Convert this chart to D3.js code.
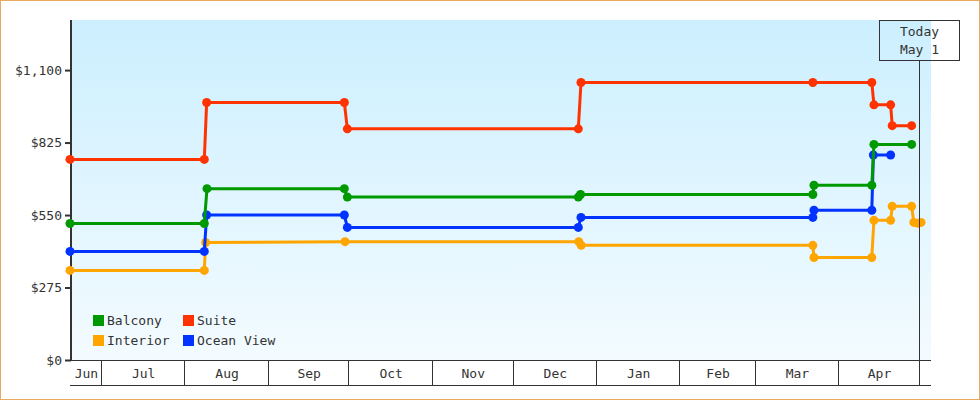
<!DOCTYPE html>
<html>
<head>
<meta charset="utf-8">
<script src="https://cdn.jsdelivr.net/npm/d3@7"></script>
<style>
  html, body { margin: 0; padding: 0; background: #fff; }
  svg { display: block; }
  text { font-family: "DejaVu Sans Mono", monospace; font-size: 13px; fill: #333; }
</style>
</head>
<body>
<svg id="chart" width="980" height="400"></svg>
<script>
// ---------- data ----------
const seriesNames = ["Balcony", "Interior", "Suite", "Ocean View"];
const seriesColors = ["#009900", "#ffa500", "#ff3300", "#0033ff"];

const balconyData = [
  ["2024-06-19 12", 518], ["2024-08-08 10", 518], ["2024-08-09 10", 650],
  ["2024-09-29 11", 650], ["2024-09-30 14", 618], ["2024-12-25 10", 618],
  ["2024-12-26 06", 628], ["2025-03-22 14", 628], ["2025-03-23 00", 663],
  ["2025-04-13 12", 663], ["2025-04-14 07", 818], ["2025-04-28 07", 818]
];
const interiorData = [
  ["2024-06-19 12", 340], ["2024-08-08 10", 340], ["2024-08-08 22", 446],
  ["2024-09-29 17", 449], ["2024-12-25 14", 449], ["2024-12-26 12", 435],
  ["2025-03-22 14", 435], ["2025-03-23 00", 389], ["2025-04-13 12", 389],
  ["2025-04-14 07", 530], ["2025-04-20 12", 530], ["2025-04-21 02", 583],
  ["2025-04-28 07", 583], ["2025-04-29 03", 522], ["2025-04-30 16", 519],
  ["2025-05-01 19", 522]
];
const suiteData = [
  ["2024-06-19 12", 761], ["2024-08-08 10", 761], ["2024-08-09 07", 977],
  ["2024-09-29 11", 977], ["2024-09-30 14", 877], ["2024-12-25 10", 877],
  ["2024-12-26 10", 1053], ["2025-03-22 14", 1053], ["2025-04-13 12", 1053],
  ["2025-04-14 07", 968], ["2025-04-20 12", 968], ["2025-04-21 02", 889],
  ["2025-04-28 07", 889]
];
const oceanViewData = [
  ["2024-06-19 12", 412], ["2024-08-08 10", 412], ["2024-08-09 07", 550],
  ["2024-09-29 11", 550], ["2024-09-30 14", 503], ["2024-12-25 10", 503],
  ["2024-12-26 10", 541], ["2025-03-22 14", 541], ["2025-03-23 00", 568],
  ["2025-04-13 12", 568], ["2025-04-14 02", 778], ["2025-04-20 12", 778]
];

const yTicks = [0, 275, 550, 825, 1100];
const yMax = 1290;
const xDomain = ["2024-06-19 12", "2025-05-05 12"];
const todayDate = "2025-05-01 00";
const todayLabel = ["Today", "May 1"];

// ---------- setup ----------
const parse = d3.timeParse("%Y-%m-%d %H");
const svg = d3.select("#chart");
const W = 980, H = 400;
const plot = { left: 71, right: 931, top: 20, bottom: 360 };

const x = d3.scaleTime().domain(xDomain.map(parse)).range([plot.left - 1, plot.right]);
const y = d3.scaleLinear().domain([0, yMax]).range([plot.bottom, plot.top]);

// outer border
svg.append("rect").attr("x", 0.5).attr("y", 0.5).attr("width", W - 1).attr("height", H - 1)
  .attr("fill", "#fff").attr("stroke", "#e9a961").attr("stroke-width", 1);

// background gradient
const defs = svg.append("defs");
const grad = defs.append("linearGradient").attr("id", "bg").attr("x1", 0).attr("y1", 0).attr("x2", 0).attr("y2", 1);
grad.append("stop").attr("offset", "0%").attr("stop-color", "#ccefff");
grad.append("stop").attr("offset", "100%").attr("stop-color", "#f3fbff");
svg.append("rect").attr("x", plot.left).attr("y", plot.top)
  .attr("width", plot.right - plot.left).attr("height", plot.bottom - plot.top)
  .attr("fill", "url(#bg)");

// ---------- bottom month axis ----------
const axisG = svg.append("g").attr("shape-rendering", "crispEdges");
axisG.append("line").attr("x1", 70).attr("x2", plot.right).attr("y1", 360.5).attr("y2", 360.5).attr("stroke", "#333");
axisG.append("line").attr("x1", 70).attr("x2", plot.right).attr("y1", 385.5).attr("y2", 385.5).attr("stroke", "#333");
const [d0, d1] = x.domain();
const monthStarts = d3.timeMonth.range(d3.timeMonth.ceil(d0), d1);
monthStarts.forEach(m => {
  const px = Math.round(x(m)) + 0.5;
  axisG.append("line").attr("x1", px).attr("x2", px).attr("y1", 360).attr("y2", 386).attr("stroke", "#333");
});
const cellEdges = [d0, ...monthStarts, d1];
const monthFmt = d3.timeFormat("%b");
for (let i = 0; i < cellEdges.length - 1; i++) {
  const a = x(cellEdges[i]), b = x(cellEdges[i + 1]);
  if (b - a < 25) continue;
  svg.append("text").attr("x", (a + b) / 2 + 1).attr("y", 378)
    .attr("text-anchor", "middle").text(monthFmt(cellEdges[i]));
}

// ---------- y axis ----------
const yAxis = d3.axisLeft(y).tickValues(yTicks).tickSize(6).tickPadding(3)
  .tickFormat(d3.format("$,"));
const yg = svg.append("g").attr("transform", `translate(${plot.left},0)`).call(yAxis);
yg.select(".domain").remove();
yg.selectAll(".tick line").attr("stroke", "#333").attr("stroke-width", 2);
yg.selectAll(".tick text").attr("font-family", "DejaVu Sans Mono").attr("font-size", 13).attr("fill", "#333");
svg.append("line").attr("x1", 71).attr("x2", 71).attr("y1", plot.top).attr("y2", plot.bottom + 1)
  .attr("stroke", "#333").attr("stroke-width", 2);

// ---------- series ----------
const allSeries = {
  "Balcony": balconyData, "Interior": interiorData,
  "Suite": suiteData, "Ocean View": oceanViewData
};
const drawOrder = ["Interior", "Ocean View", "Balcony", "Suite"];
const line = d3.line().x(d => x(parse(d[0]))).y(d => y(d[1]));
drawOrder.forEach(name => {
  const color = seriesColors[seriesNames.indexOf(name)];
  const data = allSeries[name];
  const g = svg.append("g");
  g.append("path").datum(data).attr("d", line).attr("fill", "none")
    .attr("stroke", color).attr("stroke-width", 3).attr("stroke-linejoin", "round");
  g.selectAll("circle").data(data).join("circle")
    .attr("cx", d => x(parse(d[0]))).attr("cy", d => y(d[1]))
    .attr("r", 4.5).attr("fill", color);
});

// ---------- legend ----------
const legendOrder = ["Balcony", "Suite", "Interior", "Ocean View"];
legendOrder.forEach((name, i) => {
  const col = i % 2, row = Math.floor(i / 2);
  const lx = 93 + col * 90, ly = 315 + row * 20;
  svg.append("rect").attr("x", lx).attr("y", ly).attr("width", 11).attr("height", 11)
    .attr("fill", seriesColors[seriesNames.indexOf(name)]);
  svg.append("text").attr("x", lx + 14).attr("y", ly + 10).text(name);
});

// ---------- today marker ----------
const tx = Math.round(x(parse(todayDate))) + 0.5;
svg.append("line").attr("x1", tx).attr("x2", tx).attr("y1", 60).attr("y2", plot.bottom)
  .attr("stroke", "#333").attr("stroke-width", 1).attr("shape-rendering", "crispEdges");
svg.append("rect").attr("x", tx - 40).attr("y", 20.5).attr("width", 80).attr("height", 40)
  .attr("fill", "none").attr("stroke", "#333").attr("shape-rendering", "crispEdges");
todayLabel.forEach((t, i) => {
  svg.append("text").attr("x", tx).attr("y", 36 + i * 18).attr("text-anchor", "middle").text(t);
});
</script>
</body>
</html>
